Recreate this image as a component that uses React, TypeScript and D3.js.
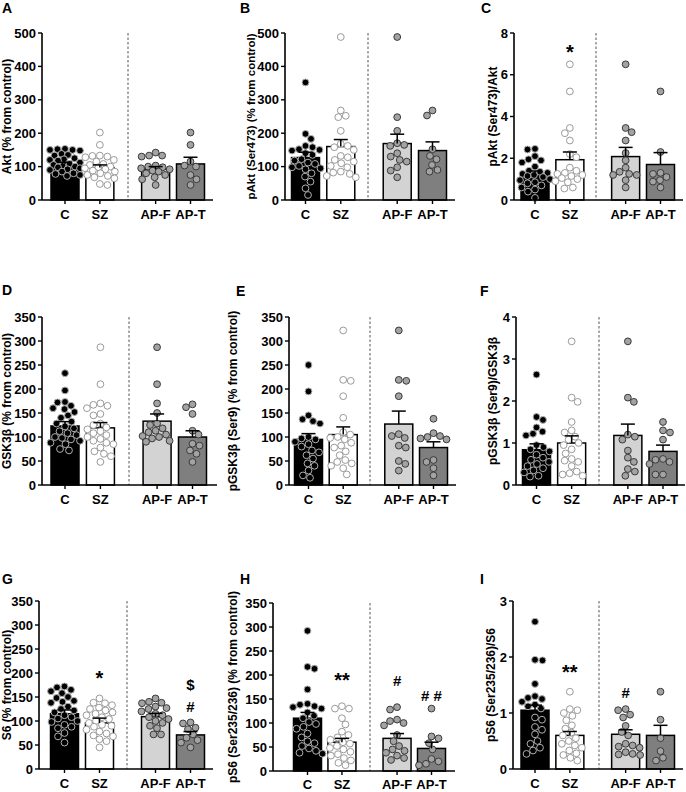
import React from 'react';
import * as d3 from 'd3';

const groups = ['C', 'SZ', 'AP-F', 'AP-T'];
const slots = [0, 1, 2.6, 3.6];

// A: Akt
const aktMean = [107, 97, 92, 108];
const aktSem = [6, 8, 8, 20];
const aktC = [152, 150, 153, 150, 148, 138, 135, 133, 122, 120, 118, 125, 112, 108, 105, 102, 100, 98, 95, 92, 90, 85, 80, 78, 75, 72];
const aktSZ = [202, 165, 133, 130, 128, 132, 120, 115, 108, 105, 100, 98, 95, 92, 88, 85, 80, 75, 72, 68, 65, 48, 45];
const aktAPF = [142, 133, 130, 133, 103, 100, 98, 95, 92, 88, 85, 80, 75, 68, 62, 45];
const aktAPT = [202, 165, 115, 103, 100, 75, 62, 45];

// B: pAkt (Ser473)
const pAktMean = [127, 160, 169, 148];
const pAktSem = [16, 21, 28, 26];
const pAktC = [352, 198, 183, 162, 158, 152, 150, 148, 140, 135, 122, 118, 112, 108, 102, 98, 95, 92, 80, 70, 55, 35, 15];
const pAktSZ = [488, 268, 252, 248, 207, 168, 162, 158, 150, 132, 128, 120, 115, 110, 102, 98, 85, 82, 78, 72, 68];
const pAktAPF = [488, 248, 207, 170, 165, 162, 140, 130, 120, 115, 98, 88, 68];
const pAktAPT = [268, 253, 152, 132, 122, 105, 90, 85];

// C: pAkt/Akt
const rAktMean = [1.19, 1.93, 2.08, 1.7];
const rAktSem = [0.2, 0.37, 0.44, 0.57];
const rAktC = [2.45, 2.42, 2.1, 1.95, 1.9, 1.8, 1.6, 1.4, 1.35, 1.3, 1.25, 1.2, 1.15, 1.1, 1.0, 0.95, 0.85, 0.8, 0.7, 0.6, 0.5, 0.4, 0.1];
const rAktSZ = [6.5, 5.2, 3.45, 3.2, 2.85, 2.2, 2.05, 1.55, 1.4, 1.3, 1.25, 1.2, 1.15, 1.05, 1.0, 0.9, 0.85, 0.6, 0.55];
const rAktAPF = [6.5, 3.45, 3.25, 2.85, 2.25, 1.9, 1.55, 1.35, 1.25, 1.2, 1.2, 0.95, 0.6];
const rAktAPT = [5.2, 2.3, 1.3, 1.25, 1.1, 0.95, 0.88, 0.6];

// D: GSK3b
const gskMean = [123, 119, 133, 100];
const gskSem = [9, 11, 15, 13];
const gskC = [233, 197, 173, 172, 165, 160, 158, 152, 145, 140, 132, 128, 122, 118, 112, 108, 104, 100, 98, 95, 92, 88, 85, 75, 72];
const gskSZ = [287, 210, 170, 167, 165, 160, 148, 145, 128, 125, 120, 116, 112, 108, 104, 100, 96, 92, 88, 85, 78, 70, 65, 60, 48];
const gskAPF = [287, 210, 170, 150, 128, 125, 118, 113, 110, 105, 102, 100, 97, 92, 90];
const gskAPT = [168, 162, 148, 113, 105, 86, 82, 72, 65, 48];

// E: pGSK3b (Ser9)
const pGskMean = [95, 105, 127, 78];
const pGskSem = [12, 16, 27, 12];
const pGskC = [250, 195, 145, 137, 133, 128, 100, 97, 95, 90, 85, 80, 72, 68, 62, 55, 45, 40, 30, 20, 15];
const pGskSZ = [322, 219, 217, 185, 140, 110, 105, 100, 98, 95, 88, 82, 78, 70, 62, 52, 48, 45, 40, 35, 22];
const pGskAPF = [322, 219, 217, 185, 106, 102, 98, 82, 78, 50, 44, 30];
const pGskAPT = [138, 108, 102, 100, 97, 95, 52, 48, 35, 20];

// F: pGSK3b/GSK3b
const rGskMean = [0.84, 1.0, 1.18, 0.8];
const rGskSem = [0.14, 0.17, 0.27, 0.15];
const rGskC = [2.63, 1.62, 1.55, 1.37, 1.27, 1.22, 1.18, 0.95, 0.9, 0.85, 0.8, 0.72, 0.65, 0.6, 0.55, 0.5, 0.45, 0.4, 0.35, 0.3, 0.22, 0.2];
const rGskSZ = [3.42, 2.08, 1.98, 1.5, 1.3, 1.25, 1.15, 1.08, 1.0, 0.95, 0.85, 0.75, 0.62, 0.58, 0.55, 0.45, 0.32, 0.28, 0.25, 0.22];
const rGskAPF = [3.42, 2.08, 1.98, 1.2, 1.15, 1.08, 0.82, 0.65, 0.55, 0.38, 0.32, 0.22];
const rGskAPT = [1.5, 1.3, 1.25, 1.08, 0.62, 0.6, 0.55, 0.5, 0.25, 0.25];

// G: S6
const s6Mean = [115, 96, 109, 71];
const s6Sem = [8, 10, 7, 7];
const s6C = [172, 170, 165, 162, 158, 150, 148, 142, 140, 138, 130, 125, 122, 118, 112, 108, 105, 100, 98, 92, 88, 85, 75, 68, 55];
const s6SZ = [147, 138, 137, 133, 128, 125, 122, 118, 115, 112, 108, 104, 100, 96, 92, 90, 88, 82, 78, 74, 70, 68, 62, 58, 45];
const s6APF = [147, 140, 138, 137, 130, 127, 125, 120, 115, 112, 108, 104, 100, 96, 90, 85, 72, 72];
const s6APT = [97, 95, 86, 83, 72, 65, 60, 55, 45];

// H: pS6
const pS6Mean = [110, 60, 68, 47];
const pS6Sem = [12, 8, 10, 13];
const pS6C = [292, 217, 213, 170, 140, 138, 135, 133, 130, 122, 115, 110, 102, 98, 92, 88, 78, 70, 62, 58, 52, 47, 42, 38, 36];
const pS6SZ = [135, 130, 130, 110, 97, 82, 75, 70, 65, 60, 57, 52, 48, 45, 40, 35, 32, 27, 22, 17, 12];
const pS6APF = [133, 128, 107, 104, 100, 95, 75, 62, 52, 45, 42, 38, 32, 27, 23];
const pS6APT = [130, 72, 68, 58, 45, 25, 20, 15, 12];

// I: pS6/S6
const rS6Mean = [1.05, 0.6, 0.62, 0.6];
const rS6Sem = [0.09, 0.07, 0.08, 0.18];
const rS6C = [2.63, 1.95, 1.94, 1.52, 1.3, 1.27, 1.25, 1.2, 1.15, 1.12, 1.08, 0.92, 0.88, 0.75, 0.7, 0.62, 0.5, 0.45, 0.38, 0.33, 0.27];
const rS6SZ = [1.38, 1.07, 1.05, 1.0, 0.95, 0.87, 0.78, 0.72, 0.65, 0.6, 0.55, 0.5, 0.45, 0.42, 0.38, 0.33, 0.28, 0.25, 0.2, 0.15];
const rS6APF = [1.07, 1.05, 0.97, 0.92, 0.77, 0.66, 0.6, 0.45, 0.42, 0.4, 0.38, 0.3, 0.27, 0.26, 0.25];
const rS6APT = [1.38, 0.88, 0.55, 0.32, 0.2, 0.15];

// significance marks
const annC = [{ g: 1, v: 7.35, t: '*' }];
const annG = [{ g: 1, v: 199, t: '*' }, { g: 3, v: 176, t: '$' }, { g: 3, v: 130, t: '#' }];
const annH = [{ g: 1, v: 200, t: '**' }, { g: 2, v: 189, t: '#' }, { g: 3, v: 158, t: '# #' }];
const annI = [{ g: 1, v: 1.83, t: '**' }, { g: 2, v: 1.37, t: '#' }];

const FONT = "'Liberation Sans', Arial, Helvetica, sans-serif";
const barFill = ['#000000', '#ffffff', '#d3d3d3', '#7f7f7f'];
const dotFill = ['#000000', '#ffffff', '#a3a3a3', '#a3a3a3'];
const dotStroke = ['#b0b0b0', '#9a9a9a', '#3a3a3a', '#3a3a3a'];

type Ann = { g: number; v: number; t: string };
type Panel = {
  letter: string; lx: number; ly: number; title: string; tx: number; tfs: number;
  axisX: number; top: number; bottom: number; end: number;
  c0: number; c3: number; dash: number; max: number; step: number;
  mean: number[]; sem: number[]; pts: number[][]; ann: Ann[];
};

const panels: Panel[] = [
  { letter: 'A', lx: 2, ly: 13, title: 'Akt (% from control)', tx: 7, tfs: 12, axisX: 42, top: 33, bottom: 200, end: 213, c0: 65, c3: 190.5, dash: 128, max: 500, step: 100, mean: aktMean, sem: aktSem, pts: [aktC, aktSZ, aktAPF, aktAPT], ann: [] },
  { letter: 'B', lx: 240, ly: 13, title: 'pAkt (Ser473) (% from control)', tx: 251, tfs: 11.5, axisX: 285, top: 33, bottom: 200, end: 455, c0: 305.5, c3: 432.5, dash: 368, max: 500, step: 100, mean: pAktMean, sem: pAktSem, pts: [pAktC, pAktSZ, pAktAPF, pAktAPT], ann: [] },
  { letter: 'C', lx: 481, ly: 13, title: 'pAkt (Ser473)/Akt', tx: 493, tfs: 12, axisX: 514, top: 33, bottom: 200, end: 683, c0: 535, c3: 660.5, dash: 596, max: 8, step: 2, mean: rAktMean, sem: rAktSem, pts: [rAktC, rAktSZ, rAktAPF, rAktAPT], ann: annC },
  { letter: 'D', lx: 2, ly: 295, title: 'GSK3β (% from control)', tx: 7, tfs: 12, axisX: 42, top: 317, bottom: 485, end: 217, c0: 65, c3: 192.5, dash: 129, max: 350, step: 50, mean: gskMean, sem: gskSem, pts: [gskC, gskSZ, gskAPF, gskAPT], ann: [] },
  { letter: 'E', lx: 236, ly: 296, title: 'pGSK3β (Ser9) (% from control)', tx: 233, tfs: 12, axisX: 289, top: 317, bottom: 485, end: 456, c0: 308.5, c3: 433.5, dash: 370, max: 350, step: 50, mean: pGskMean, sem: pGskSem, pts: [pGskC, pGskSZ, pGskAPF, pGskAPT], ann: [] },
  { letter: 'F', lx: 480, ly: 296, title: 'pGSK3β (Ser9)/GSK3β', tx: 493, tfs: 12, axisX: 516, top: 317, bottom: 485, end: 685, c0: 536.5, c3: 663, dash: 599, max: 4, step: 1, mean: rGskMean, sem: rGskSem, pts: [rGskC, rGskSZ, rGskAPF, rGskAPT], ann: [] },
  { letter: 'G', lx: 2, ly: 584, title: 'S6 (% from control)', tx: 7, tfs: 12, axisX: 39, top: 601, bottom: 769, end: 213, c0: 64.5, c3: 190.5, dash: 127, max: 350, step: 50, mean: s6Mean, sem: s6Sem, pts: [s6C, s6SZ, s6APF, s6APT], ann: annG },
  { letter: 'H', lx: 240, ly: 584, title: 'pS6 (Ser235/236) (% from control)', tx: 233, tfs: 12, axisX: 273, top: 603, bottom: 771, end: 455, c0: 307.5, c3: 431.5, dash: 370, max: 350, step: 50, mean: pS6Mean, sem: pS6Sem, pts: [pS6C, pS6SZ, pS6APF, pS6APT], ann: annH },
  { letter: 'I', lx: 480, ly: 584, title: 'pS6 (Ser235/236)/S6', tx: 491, tfs: 12, axisX: 513, top: 601, bottom: 769, end: 683, c0: 535, c3: 660.5, dash: 599, max: 3, step: 1, mean: rS6Mean, sem: rS6Sem, pts: [rS6C, rS6SZ, rS6APF, rS6APT], ann: annI },
];

const R = 3.4;

function swarm(ys: number[], maxW: number): number[] {
  const order = ys.map((y, i) => i).sort((a, b) => ys[a] - ys[b]);
  const xs: number[] = new Array(ys.length).fill(0);
  const placed: number[] = [];
  const minD = 2 * R + 0.3;
  order.forEach((i, k) => {
    const y = ys[i];
    let best = 0;
    let bestScore = -Infinity;
    const sgn = k % 2 === 0 ? 1 : -1;
    for (let s = 0; s <= maxW * 2; s++) {
      for (const dir of s === 0 ? [1] : [sgn, -sgn]) {
        const off = (dir * s) / 2;
        let mind = Infinity;
        for (const j of placed) {
          const d = Math.hypot(xs[j] - off, ys[j] - y);
          if (d < mind) mind = d;
        }
        if (mind >= minD) {
          best = off; bestScore = Infinity;
          break;
        }
        if (mind > bestScore) { bestScore = mind; best = off; }
      }
      if (bestScore === Infinity) break;
    }
    xs[i] = best;
    placed.push(i);
  });
  return xs;
}

function PanelView({ p }: { p: Panel }) {
  const y = d3.scaleLinear().domain([0, p.max]).range([p.bottom, p.top]);
  const x = d3.scaleLinear().domain([0, slots[3]]).range([p.c0, p.c3]);
  const ticks = d3.range(0, p.max + p.step / 2, p.step);
  const bw = 28;
  const midY = (p.top + p.bottom) / 2;
  const labY = Math.min(p.bottom + 19, 789);
  return (
    <g>
      <text x={p.lx} y={p.ly} fontFamily={FONT} fontWeight="bold" fontSize={14}>{p.letter}</text>
      <text transform={`translate(${p.tx},${midY}) rotate(-90)`} textAnchor="middle" dominantBaseline="central" fontFamily={FONT} fontWeight="bold" fontSize={p.tfs}>{p.title}</text>
      {/* dashed divider */}
      <line x1={p.dash} x2={p.dash} y1={p.top} y2={p.bottom} stroke="#555" strokeWidth={1} strokeDasharray="2.5,2" />
      {/* bars */}
      {groups.map((g, i) => (
        <rect key={g} x={x(slots[i]) - bw / 2} y={y(p.mean[i])} width={bw} height={p.bottom - y(p.mean[i])} fill={barFill[i]} stroke="#000" strokeWidth={1.5} />
      ))}
      {/* dots */}
      {groups.map((g, i) => {
        const ys = p.pts[i].map((v) => y(v));
        const xs = swarm(ys, 15);
        return (
          <g key={g}>
            {ys.map((yy, k) => (
              <circle key={k} cx={x(slots[i]) + xs[k]} cy={yy} r={R} fill={dotFill[i]} stroke={dotStroke[i]} strokeWidth={1} />
            ))}
          </g>
        );
      })}
      {/* error bars */}
      {groups.map((g, i) => {
        const cx = x(slots[i]);
        const yt = y(p.mean[i] + p.sem[i]);
        return (
          <g key={g} stroke="#000" strokeWidth={1.5}>
            <line x1={cx} x2={cx} y1={y(p.mean[i])} y2={yt} />
            <line x1={cx - 7} x2={cx + 7} y1={yt} y2={yt} />
          </g>
        );
      })}
      {/* axes */}
      <line x1={p.axisX} x2={p.axisX} y1={p.top} y2={p.bottom} stroke="#000" strokeWidth={1.6} />
      <line x1={p.axisX} x2={p.end} y1={p.bottom} y2={p.bottom} stroke="#000" strokeWidth={1.6} />
      {ticks.map((t) => (
        <g key={t}>
          <line x1={p.axisX - 4} x2={p.axisX} y1={y(t)} y2={y(t)} stroke="#000" strokeWidth={1.4} />
          <text x={p.axisX - 6} y={y(t)} textAnchor="end" dominantBaseline="central" fontFamily={FONT} fontWeight="bold" fontSize={13}>{t}</text>
        </g>
      ))}
      {groups.map((g, i) => (
        <g key={g}>
          <line x1={x(slots[i])} x2={x(slots[i])} y1={p.bottom} y2={p.bottom + 4} stroke="#000" strokeWidth={1.4} />
          <text x={x(slots[i])} y={labY} textAnchor="middle" fontFamily={FONT} fontWeight="bold" fontSize={13}>{g}</text>
        </g>
      ))}
      {p.ann.map((a, k) => (
        <text key={k} x={x(slots[a.g])} y={y(a.v)} textAnchor="middle" dominantBaseline="central" fontFamily={FONT} fontWeight="bold" fontSize={a.t.includes('*') ? 20 : 15}
          dy={a.t.includes('*') ? 5 : 0}>{a.t}</text>
      ))}
    </g>
  );
}

export default function App() {
  return (
    <svg width={686} height={792} style={{ position: 'absolute', left: 0, top: 0, background: '#fff' }}>
      <rect x={0} y={0} width={686} height={792} fill="#fff" />
      {panels.map((p) => <PanelView key={p.letter} p={p} />)}
    </svg>
  );
}
